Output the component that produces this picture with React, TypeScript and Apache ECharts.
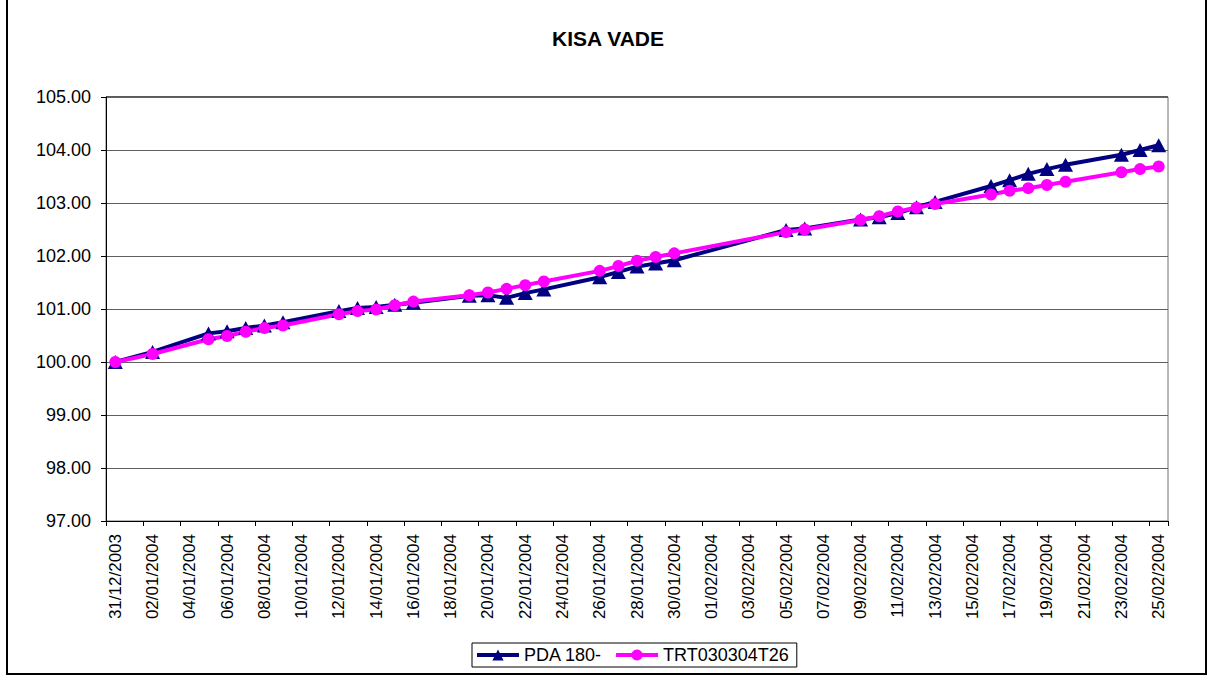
import React, { useEffect, useRef } from "react";
import * as echarts from "echarts";

const categories = [
  "31/12/2003",
  "01/01/2004", "02/01/2004", "03/01/2004", "04/01/2004", "05/01/2004", "06/01/2004", "07/01/2004",
  "08/01/2004", "09/01/2004", "10/01/2004", "11/01/2004", "12/01/2004", "13/01/2004", "14/01/2004",
  "15/01/2004", "16/01/2004", "17/01/2004", "18/01/2004", "19/01/2004", "20/01/2004", "21/01/2004",
  "22/01/2004", "23/01/2004", "24/01/2004", "25/01/2004", "26/01/2004", "27/01/2004", "28/01/2004",
  "29/01/2004", "30/01/2004", "31/01/2004",
  "01/02/2004", "02/02/2004", "03/02/2004", "04/02/2004", "05/02/2004", "06/02/2004", "07/02/2004",
  "08/02/2004", "09/02/2004", "10/02/2004", "11/02/2004", "12/02/2004", "13/02/2004", "14/02/2004",
  "15/02/2004", "16/02/2004", "17/02/2004", "18/02/2004", "19/02/2004", "20/02/2004", "21/02/2004",
  "22/02/2004", "23/02/2004", "24/02/2004", "25/02/2004",
];

const pdaValues: (number | null)[] = [
  100.0,
  null, 100.19, null, null, 100.54, 100.58, 100.64,
  100.69, 100.75, null, null, 100.96, 101.02, 101.04,
  101.08, 101.12, null, null, 101.25, 101.26, 101.21,
  101.3, 101.37, null, null, 101.6, 101.7, 101.8,
  101.86, 101.92, null,
  null, null, null, null, 102.49, 102.52, null,
  null, 102.69, 102.73, 102.81, 102.92, 103.02, null,
  null, 103.32, 103.43, 103.55, 103.64, 103.72, null,
  null, 103.91, 104.0, 104.09,
];

const trtValues: (number | null)[] = [
  100.0,
  null, 100.15, null, null, 100.43, 100.49, 100.57,
  100.64, 100.69, null, null, 100.9, 100.96, 100.99,
  101.07, 101.14, null, null, 101.26, 101.31, 101.38,
  101.45, 101.52, null, null, 101.72, 101.81, 101.91,
  101.98, 102.05, null,
  null, null, null, null, 102.45, 102.5, null,
  null, 102.68, 102.75, 102.84, 102.91, 102.98, null,
  null, 103.16, 103.23, 103.28, 103.34, 103.4, null,
  null, 103.58, 103.64, 103.69,
];

const seriesNames = ["PDA 180-", "TRT030304T26"];
const titleText = "KISA VADE";

const FONT = "'Liberation Sans', Arial, sans-serif";

export default function App() {
  const ref = useRef<HTMLDivElement>(null);

  useEffect(() => {
    if (!ref.current) return;
    const chart = echarts.init(ref.current, undefined, { renderer: "svg" });
    chart.setOption({
      animation: false,
      backgroundColor: "#ffffff",
      title: {
        text: titleText,
        left: "center",
        top: 28,
        padding: 0,
        textStyle: { fontFamily: FONT, fontSize: 21, fontWeight: "bold", color: "#000" },
      },
      legend: {
        left: 472,
        top: 643,
        padding: [3, 8, 3, 3],
        itemGap: 12,
        itemWidth: 42,
        itemHeight: 14,
        borderColor: "#000",
        borderWidth: 1,
        lineStyle: { width: 4 },
        textStyle: { fontFamily: FONT, fontSize: 18, color: "#000" },
        data: seriesNames,
      },
      grid: {
        left: 106,
        right: 48,
        top: 97,
        bottom: 160,
        show: true,
        borderColor: "#707070",
        borderWidth: 1,
        containLabel: false,
      },
      xAxis: {
        type: "category",
        data: categories,
        boundaryGap: true,
        axisLine: { show: true, lineStyle: { color: "#000", width: 1 } },
        axisTick: { show: true, interval: 1, length: 5, lineStyle: { color: "#000" } },
        axisLabel: {
          interval: 1,
          rotate: 90,
          margin: 13,
          fontFamily: FONT,
          fontSize: 17,
          color: "#000",
        },
        splitLine: { show: false },
      },
      yAxis: {
        type: "value",
        min: 97,
        max: 105,
        interval: 1,
        axisLine: { show: true, lineStyle: { color: "#000", width: 1 } },
        axisTick: { show: true, length: 5, lineStyle: { color: "#000" } },
        axisLabel: {
          margin: 15,
          fontFamily: FONT,
          fontSize: 18,
          color: "#000",
          formatter: (v: number) => v.toFixed(2),
        },
        splitLine: { show: true, lineStyle: { color: "#606060", width: 1 } },
      },
      graphic: [
        {
          type: "rect",
          shape: { x: 7, y: -10, width: 1199, height: 684 },
          style: { fill: "none", stroke: "#000", lineWidth: 2 },
          silent: true,
        },
        {
          type: "line",
          shape: { x1: 106, y1: 97, x2: 1168, y2: 97 },
          style: { stroke: "#000", lineWidth: 1 },
          silent: true,
        },
      ],
      series: [
        {
          name: seriesNames[0],
          type: "line",
          data: pdaValues,
          connectNulls: true,
          symbol: "triangle",
          symbolSize: [15, 14],
          showAllSymbol: true,
          lineStyle: { color: "#000080", width: 4 },
          itemStyle: { color: "#000080" },
          emphasis: { disabled: true },
        },
        {
          name: seriesNames[1],
          type: "line",
          data: trtValues,
          connectNulls: true,
          symbol: "circle",
          symbolSize: 12,
          showAllSymbol: true,
          lineStyle: { color: "#FF00FF", width: 4 },
          itemStyle: { color: "#FF00FF" },
          emphasis: { disabled: true },
        },
      ],
    });
    return () => chart.dispose();
  }, []);

  return (
    <div
      ref={ref}
      style={{ position: "fixed", left: 0, top: 0, width: 1216, height: 681, background: "#fff" }}
    />
  );
}
